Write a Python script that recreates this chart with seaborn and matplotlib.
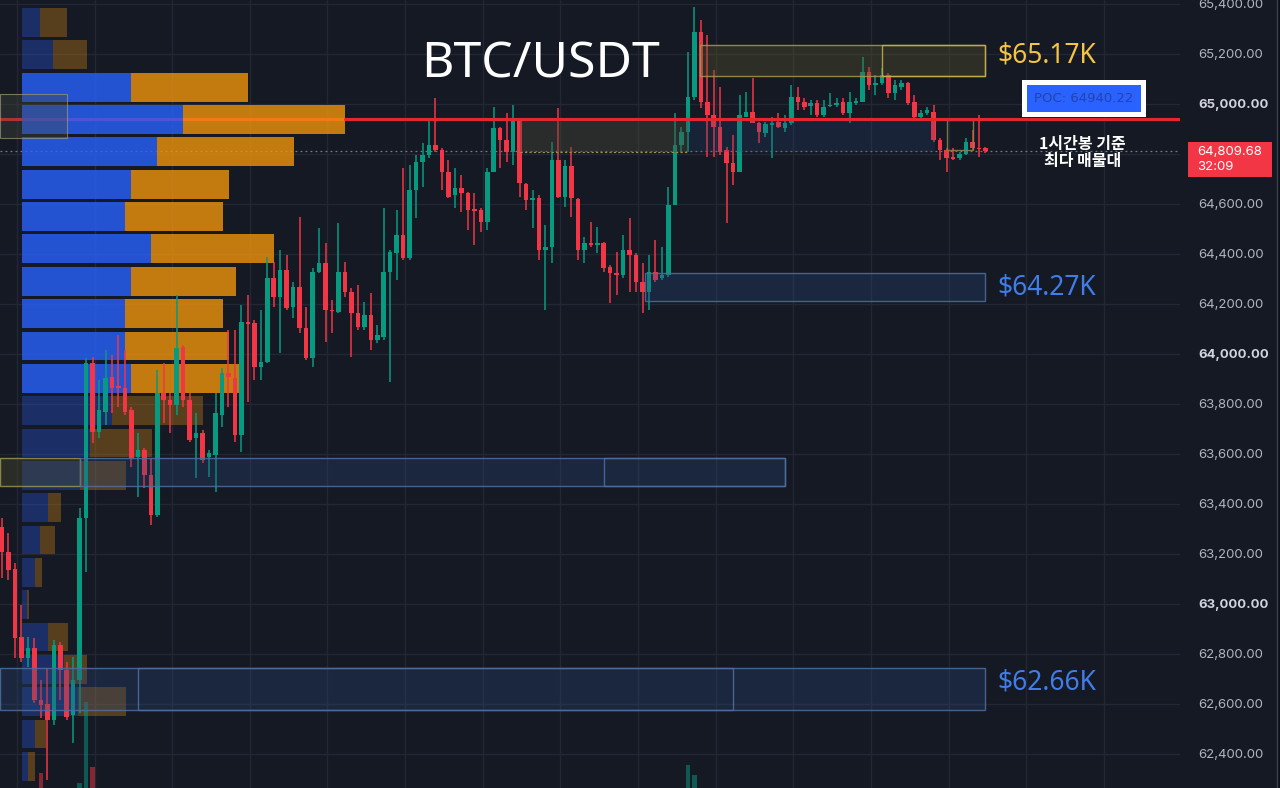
import numpy as np
import pandas as pd
import seaborn as sns
import matplotlib.pyplot as plt
from matplotlib.patches import Rectangle
from matplotlib.lines import Line2D
from matplotlib.transforms import blended_transform_factory

# 1h candles, oldest first
opens = [63307, 63207, 63139, 62867, 62783, 62823, 62615, 62600, 62535, 62835,
         62735, 62555, 62695, 63343, 63963, 63687, 63767, 63907, 63871, 63863,
         63775, 63587, 63615, 63515, 63355, 63843, 63815, 63795, 64027, 63815,
         63663, 63683, 63587, 63595, 63755, 63923, 63903, 63675, 64127, 64123,
         63947, 63967, 64303, 64227, 64335, 64187, 64267, 64103, 63983, 64327,
         64363, 64175, 64167, 64327, 64247, 64163, 64107, 64155, 64055, 64067,
         64327, 64403, 64475, 64383, 64655, 64767, 64795, 64835, 64815, 64727,
         64635, 64663, 64643, 64579, 64575, 64527, 64727, 64903, 64855, 64807,
         64935, 64679, 64615, 64623, 64415, 64427, 64775, 64627, 64751, 64619,
         64415, 64443, 64435, 64443, 64347, 64323, 64315, 64415, 64395, 64287,
         64247, 64327, 64303, 64315, 64595, 64835, 64887, 65027, 65287, 65007,
         64955, 64907, 64815, 64763, 64727, 64947, 64967, 64923, 64883, 64915,
         64927, 64903, 64923, 65027, 65007, 64991, 65003, 64955, 64991, 64995,
         65007, 64963, 65003, 65007, 65127, 65075, 65083, 65115, 65043, 65067,
         65083, 65007, 64947, 64963, 64967, 64855, 64815, 64787, 64783, 64799,
         64847, 64823, 64823]
highs = [63343, 63283, 63163, 62995, 62867, 62863, 62695, 62743, 62855, 62847,
         62767, 62787, 63383, 63983, 63987, 63895, 64015, 63995, 64075, 64015,
         63787, 63683, 63623, 63583, 63935, 63963, 63843, 64235, 64035, 63843,
         63763, 63695, 63615, 63843, 63943, 64095, 64095, 64195, 64235, 64135,
         64175, 64387, 64367, 64415, 64395, 64287, 64547, 64187, 64343, 64503,
         64443, 64215, 64523, 64367, 64263, 64275, 64207, 64243, 64115, 64583,
         64415, 64575, 64743, 64755, 64795, 64843, 64935, 65023, 64823, 64775,
         64743, 64715, 64647, 64643, 64583, 64743, 64987, 64907, 64963, 64995,
         64943, 64683, 64655, 64635, 64515, 64847, 64983, 64775, 64827, 64623,
         64467, 64527, 64507, 64447, 64355, 64407, 64475, 64543, 64403, 64363,
         64395, 64455, 64427, 64667, 64963, 64907, 65207, 65387, 65335, 65275,
         65135, 65067, 64827, 64875, 65035, 65047, 65103, 64927, 64927, 64947,
         64963, 64955, 65075, 65067, 65023, 65015, 65015, 65015, 65043, 65023,
         65023, 65047, 65023, 65187, 65147, 65115, 65143, 65123, 65095, 65095,
         65087, 65035, 64975, 64987, 64995, 64863, 64823, 64823, 64807, 64863,
         64895, 64955, 64827]
lows = [63103, 63095, 62783, 62767, 62747, 62603, 62543, 62295, 62515, 62615,
        62535, 62443, 62563, 63127, 63643, 63663, 63715, 63763, 63787, 63755,
        63547, 63427, 63463, 63315, 63347, 63723, 63683, 63755, 63787, 63647,
        63503, 63563, 63507, 63447, 63707, 63787, 63647, 63607, 63807, 63895,
        63895, 63963, 64187, 64003, 64175, 64143, 64083, 63975, 63947, 64323,
        64047, 64083, 64163, 64227, 63987, 64095, 64095, 64015, 64043, 64055,
        63887, 64295, 64375, 64375, 64543, 64667, 64783, 64807, 64655, 64623,
        64583, 64567, 64495, 64435, 64487, 64495, 64727, 64743, 64767, 64755,
        64627, 64575, 64503, 64375, 64175, 64363, 64623, 64587, 64547, 64375,
        64363, 64427, 64403, 64327, 64203, 64235, 64303, 64247, 64247, 64163,
        64175, 64287, 64295, 64307, 64595, 64807, 64807, 65015, 64983, 64787,
        64787, 64795, 64523, 64675, 64727, 64947, 64923, 64843, 64867, 64783,
        64903, 64887, 64915, 64975, 64975, 64955, 64947, 64947, 64987, 64987,
        64955, 64923, 64995, 65007, 65055, 65035, 65075, 65023, 65015, 65055,
        64995, 64943, 64935, 64955, 64847, 64775, 64727, 64775, 64775, 64795,
        64815, 64787, 64803]
closes = [63207, 63135, 62863, 62783, 62823, 62615, 62595, 62535, 62835, 62735,
          62547, 62695, 63343, 63963, 63687, 63775, 63903, 63863, 63863, 63767,
          63583, 63615, 63515, 63355, 63843, 63815, 63795, 64023, 63815, 63655,
          63683, 63575, 63603, 63763, 63923, 63907, 63675, 64127, 64119, 63947,
          63967, 64303, 64227, 64335, 64183, 64267, 64103, 63983, 64327, 64363,
          64175, 64171, 64327, 64247, 64163, 64107, 64155, 64055, 64075, 64327,
          64407, 64475, 64383, 64655, 64767, 64795, 64835, 64815, 64727, 64627,
          64663, 64643, 64575, 64571, 64527, 64727, 64903, 64855, 64807, 64935,
          64683, 64615, 64623, 64415, 64427, 64775, 64627, 64751, 64623, 64415,
          64443, 64435, 64443, 64343, 64323, 64315, 64415, 64395, 64287, 64247,
          64327, 64295, 64315, 64595, 64835, 64887, 65027, 65287, 65007, 64955,
          64907, 64807, 64763, 64727, 64955, 64967, 64923, 64887, 64919, 64923,
          64907, 64923, 65027, 65007, 64987, 65003, 64955, 64987, 64995, 65003,
          64963, 65007, 65011, 65127, 65075, 65083, 65115, 65043, 65075, 65083,
          65003, 64947, 64963, 64975, 64855, 64815, 64783, 64779, 64799, 64847,
          64823, 64819, 64810]

# tips of the volume histogram that reach into view (candle index, volume)
vol_index = [6, 12, 13, 14, 106, 107]
vol_values = [2174, 2058, 3000, 2244, 2267, 2151]

# visible range volume profile
vp_price = [65325, 65196, 65066, 64937, 64808, 64678, 64549, 64420, 64290, 64161,
            64031, 63902, 63773, 63643, 63514, 63384, 63255, 63126, 62996, 62867,
            62737, 62608, 62479, 62349]
vp_buy = [18, 31, 109, 161, 135, 109, 103, 129, 109, 103, 103, 109,
          90, 68, 58, 26, 18, 13, 5, 26, 42, 56, 13, 6]
vp_sell = [27, 34, 117, 162, 137, 98, 98, 123, 105, 98, 104, 109,
           91, 62, 46, 13, 15, 7, 2, 20, 23, 48, 11, 7]
value_area = (2, 11)
row_step = 129.4

poc_price = 64940.22
last_price = 64809.68
countdown = "32:09"

# marked zones: (first candle, last candle, low, high, style)
zones = [
    (107.9, 152.0, 65111, 65235, 'gold'),
    (136.0, 152.0, 65111, 65235, 'gold_edge'),
    (80.1, 106.0, 64807, 64935, 'olive_fill'),
    (106.0, 144.2, 64807, 64935, 'blue_dim'),
    (146.1, 150.1, 64815, 64935, 'olive_edge'),
    (99.4, 152.0, 64211, 64323, 'blue'),
    (None, 12.1, 63471, 63583, 'olive'),
    (12.1, 121.0, 63471, 63583, 'blue'),
    (93.0, 121.0, 63471, 63583, 'blue_edge'),
    (None, 152.0, 62575, 62743, 'blue'),
    (21.0, 113.0, 62575, 62743, 'blue_edge'),
]
zone_labels = [("$65.17K", 65195, '#f5c443'),
               ("$64.27K", 64265, '#417de9'),
               ("$62.66K", 62685, '#417de9')]

BG = '#151924'
GRID = '#232734'
UP = '#089981'
DOWN = '#f23645'

sns.set_theme(style='dark', rc={'axes.facecolor': BG, 'figure.facecolor': BG})
plt.rcParams['font.family'] = ['Noto Sans', 'DejaVu Sans']

df = pd.DataFrame({'open': opens, 'high': highs, 'low': lows, 'close': closes})
df['x'] = np.arange(len(df))
df['up'] = df['close'] >= df['open']

XMIN, XMAX = -0.31, 182.07
YMIN, YMAX = 62263, 65415

fig = plt.figure(figsize=(12.8, 7.88), dpi=100, facecolor=BG)
ax = fig.add_axes([0, 0, 1180 / 1280, 1])
ax.set_facecolor(BG)
ax.set_xlim(XMIN, XMAX)
ax.set_ylim(YMIN, YMAX)

# grid
ticks = np.arange(62400, 65401, 200)
ax.set_yticks(ticks)
ax.set_xticks(np.arange(2.3, XMAX, 12))
ax.grid(True, color=GRID, lw=1, zorder=0)
ax.set_axisbelow(True)
ax.tick_params(axis='x', labelbottom=False, length=0)
ax.yaxis.tick_right()
ax.tick_params(axis='y', length=0, pad=13, labelsize=9.5, labelcolor='#b2b5be')
# the 64,800 label sits under the last price tag
ax.set_yticklabels([f"{t:,.2f}" if abs(t - last_price) > 100 else "" for t in ticks],
                   family='Inter')
for t, lab in zip(ticks, ax.get_yticklabels()):
    if t % 1000 == 0:
        lab.set_fontweight('bold')
        lab.set_color('#d1d4dc')
sns.despine(ax=ax, left=True, right=True, top=True, bottom=True)

# POC line (under the profile, tinted by it)
ax.axhline(poc_price, color='#e3262f', lw=2.2, zorder=1.5)
ax.axhline(last_price, color='#8f929c', lw=0.9, ls=(0, (1.5, 2.5)), alpha=0.8, zorder=1.6)

# volume profile, scaled to the left ~27% of the pane
span = XMAX - XMIN
x0 = XMIN + 22 / 1180 * span
tot = np.array(vp_buy) + np.array(vp_sell)
k = 0.2737 * span / tot.max()
h = row_step * 0.89
for i, (p, b, s) in enumerate(zip(vp_price, vp_buy, vp_sell)):
    inside = value_area[0] <= i <= value_area[1]
    a = 0.8 if inside else 0.3
    ax.barh(p, b * k, left=x0, height=h, color='#2962ff', alpha=a, lw=0, zorder=2)
    ax.barh(p, s * k, left=x0 + b * k, height=h, color='#f0940c', alpha=a, lw=0, zorder=2)
# value area marker box on the left
ax.add_patch(Rectangle((XMIN, 64863), 10.35, 176, facecolor='#4a4a3c', alpha=0.35,
                       edgecolor='none', zorder=2.5))
ax.add_patch(Rectangle((XMIN, 64863), 10.35, 176, facecolor='none',
                       edgecolor='#9a9878', lw=0.8, alpha=0.7, zorder=2.5))

# POC line above the candles, right of the profile
ax.plot([x0 + tot.max() * k, XMAX], [poc_price, poc_price], color='#e3262f', lw=2.2, zorder=6)

# volume histogram tips
vb = blended_transform_factory(ax.transData, ax.transAxes)
for vi, vv in zip(vol_index, vol_values):
    c = UP if df.loc[vi, 'up'] else DOWN
    frac = (vv - 2000) / 9163
    ax.bar(vi, frac, bottom=0, width=0.7, color=c, alpha=0.5, lw=0, transform=vb, zorder=2.2)

# candles
colors = np.where(df['up'], UP, DOWN)
ax.vlines(df['x'], df['low'], df['high'], colors=colors, lw=1.1, zorder=3)
body_lo = np.minimum(df['open'], df['close'])
body_h = np.maximum(np.abs(df['close'] - df['open']), 5)
ax.bar(df['x'], body_h, bottom=body_lo, width=0.7, color=colors, lw=0, zorder=3.1)

# zones
styles = {
    'gold': dict(facecolor='#5c5a2a', alpha=0.35, edgecolor='none'),
    'olive': dict(facecolor='#4d4c30', alpha=0.38, edgecolor='none'),
    'olive_fill': dict(facecolor='#4a4a3a', alpha=0.4, edgecolor='none'),
    'blue': dict(facecolor='#2b4a7e', alpha=0.3, edgecolor='none'),
    'blue_dim': dict(facecolor='#2b4a7e', alpha=0.22, edgecolor='none'),
}
edges = {'gold': '#a39a4c', 'gold_edge': '#c9b04a', 'olive': '#9c9450',
         'olive_edge': '#8d8650', 'blue': '#4f6e9e', 'blue_edge': '#4f6e9e'}
for x_a, x_b, lo, hi, st in zones:
    xa = XMIN if x_a is None else x_a
    if st in styles:
        ax.add_patch(Rectangle((xa, lo), x_b - xa, hi - lo, lw=0, zorder=4, **styles[st]))
    if st in edges:
        ax.add_patch(Rectangle((xa, lo), x_b - xa, hi - lo, facecolor='none',
                               edgecolor=edges[st], lw=1, alpha=0.85, zorder=4.1))
    if st == 'olive_fill':
        ax.plot([xa, x_b], [lo, lo], color='#9c9450', lw=0.8, ls=(0, (2, 2)), zorder=4.1)

for txt, p, c in zone_labels:
    ax.text(153.8, p, txt, color=c, fontsize=19, fontweight='semibold', ha='left',
            va='center', family=['Noto Sans', 'DejaVu Sans'], zorder=7)

# title
ax.text(540 / 1180, 1 - 64 / 788, "BTC/USDT", transform=ax.transAxes, color='white',
        fontsize=36, ha='center', va='center', family=['Noto Sans', 'DejaVu Sans'], zorder=8)

# POC tag and note
ax.text(167.2, 65023, f"POC: {poc_price:.2f}", color='#2344a8', fontsize=9.5,
        ha='center', va='center', family='DejaVu Sans', zorder=8,
        bbox=dict(boxstyle='square,pad=0.75', facecolor='#2962ff', edgecolor='white', lw=3.6))
ax.text(167.0, 64805, "1시간봉 기준\n최다 매물대", color='white', fontsize=11.5,
        fontweight='bold', ha='center', va='center', linespacing=1.15,
        family=['Noto Sans CJK KR', 'DejaVu Sans'], zorder=8)

# last price tag on the price scale
tb = blended_transform_factory(ax.transAxes, ax.transData)
ax.add_patch(Rectangle((1188 / 1180, last_price - 102), 84 / 1180, 140, transform=tb,
                       facecolor=DOWN, edgecolor='none', clip_on=False, zorder=9))
ax.text(1197 / 1180, last_price - 4, f"{last_price:,.2f}", transform=tb, color='white',
        fontsize=9.5, ha='left', va='center', family='Inter', clip_on=False, zorder=10)
ax.text(1197 / 1180, last_price - 64, countdown, transform=tb, color='white',
        fontsize=9.5, ha='left', va='center', family='Inter', clip_on=False, zorder=10)

# price scale border
fig.add_artist(Line2D([1276.5 / 1280] * 2, [0, 1], color='#3b3f4c', lw=1))
fig.add_artist(Rectangle((1277 / 1280, 0), 3 / 1280, 1, facecolor='#0e1017', edgecolor='none'))

fig.savefig('out.png', dpi=100, facecolor=BG)
